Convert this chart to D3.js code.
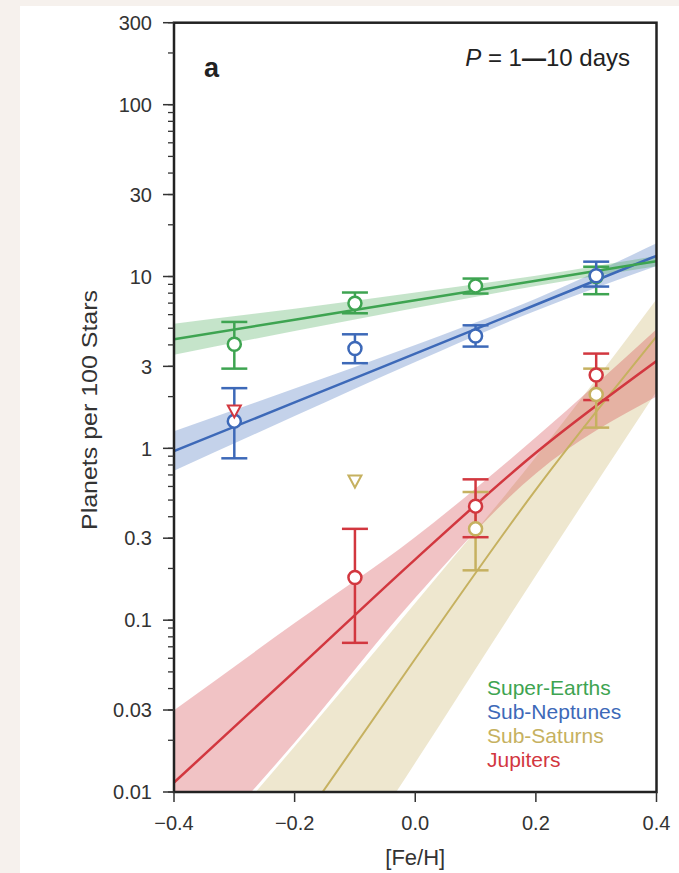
<!DOCTYPE html>
<html>
<head>
<meta charset="utf-8">
<script src="https://cdn.jsdelivr.net/npm/d3@7"></script>
<style>
  body { margin:0; background:#f6f1ed; }
  #panel { position:absolute; left:20px; top:6px; width:659px; height:867px; background:#fff; }
  svg { position:absolute; left:0; top:0; }
  text { font-family:"Liberation Sans", Arial, Helvetica, sans-serif; }
</style>
</head>
<body>
<div id="panel"></div>
<svg id="chart"></svg>
<script>
var width = 679, height = 873;
// plot box (window.top is reserved, so no "top" here)
var boxL = 174, boxR = 656.5, boxT = 22.7, boxB = 792;

// metallicity bins and occurrence (planets per 100 stars)
var fehBins = [-0.3, -0.1, 0.1, 0.3];
var seVal = [4.03, 6.99, 8.82, 10.0];
var seHi  = [5.44, 8.07, 9.73, 11.4];
var seLo  = [2.91, 6.11, 7.96, 7.89];
var snVal = [1.44, 3.81, 4.51, 10.1];
var snHi  = [2.24, 4.61, 5.2, 12.2];
var snLo  = [0.875, 3.13, 3.91, 8.74];
var ssVal = [null, null, 0.34, 2.06];
var ssHi  = [null, null, 0.557, 2.91];
var ssLo  = [null, null, 0.195, 1.32];
var jpVal = [null, 0.177, 0.461, 2.67];
var jpHi  = [null, 0.34, 0.66, 3.56];
var jpLo  = [null, 0.0738, 0.304, 1.91];
// upper limits (triangles)
var ssLim = [null, 0.645, null, null];
var jpLim = [1.65, null, null, null];

// fitted relations at these [Fe/H]
var fitFeh = [-0.4, -0.2, 0.0, 0.2, 0.4];
var seFit = [4.32, 5.6, 7.28, 9.44, 12.27];
var seFitHi = [5.31, 6.5, 8.07, 10.1, 13.15];
var seFitLo = [3.51, 4.82, 6.56, 8.81, 11.46];
var snFit = [0.964, 1.85, 3.56, 6.85, 13.2];
var snFitHi = [1.256, 2.23, 4.0, 7.43, 15.6];
var snFitLo = [0.74, 1.54, 3.18, 6.32, 11.5];
var ssFit = [0.00054, 0.00583, 0.0596, 0.575, 4.47];
var ssFitHi = [0.00282, 0.0184, 0.126, 0.89, 7.38];
var ssFitLo = [0.000112, 0.00126, 0.0148, 0.182, 2.14];
var jpFit = [0.01135, 0.0504, 0.226, 0.942, 3.22];
var jpFitHi = [0.0299, 0.0962, 0.305, 1.16, 4.93];
var jpFitLo = [0.00316, 0.0194, 0.135, 0.714, 2.0];

var names = ["Super-Earths", "Sub-Neptunes", "Sub-Saturns", "Jupiters"];
var colors = ["#3ea451", "#3d69b8", "#c6b160", "#d2373f"];

var yTickVals = [0.01, 0.03, 0.1, 0.3, 1, 3, 10, 30, 100, 300];
var yTickText = ["0.01", "0.03", "0.1", "0.3", "1", "3", "10", "30", "100", "300"];
var xTickVals = [-0.4, -0.2, 0.0, 0.2, 0.4];
var xTickText = ["\u22120.4", "\u22120.2", "0.0", "0.2", "0.4"];

var groups = [
  {val:seVal, hi:seHi, lo:seLo, lim:[null,null,null,null], fit:seFit, fhi:seFitHi, flo:seFitLo},
  {val:snVal, hi:snHi, lo:snLo, lim:[null,null,null,null], fit:snFit, fhi:snFitHi, flo:snFitLo},
  {val:ssVal, hi:ssHi, lo:ssLo, lim:ssLim, fit:ssFit, fhi:ssFitHi, flo:ssFitLo},
  {val:jpVal, hi:jpHi, lo:jpLo, lim:jpLim, fit:jpFit, fhi:jpFitHi, flo:jpFitLo}
];

var svg = d3.select("#chart").attr("width", width).attr("height", height);

var x = d3.scaleLinear().domain([-0.4, 0.4]).range([boxL, boxR]);
var y = d3.scaleLog().domain([0.01, 300]).range([boxB, boxT]);

svg.append("clipPath").attr("id", "clip")
  .append("rect").attr("x", boxL).attr("y", boxT)
  .attr("width", boxR - boxL).attr("height", boxB - boxT);

var plot = svg.append("g").attr("clip-path", "url(#clip)");

// bands: draw sub-saturns first, then jupiters, then small planets
var bandOrder = [2, 3, 1, 0];
bandOrder.forEach(function(i) {
  var g = groups[i];
  var pts = fitFeh.map(function(f, k) { return [f, g.flo[k], g.fhi[k]]; });
  plot.append("path")
    .datum(pts)
    .attr("fill", colors[i])
    .attr("fill-opacity", 0.3)
    .attr("d", d3.area()
      .curve(d3.curveMonotoneX)
      .x(function(d) { return x(d[0]); })
      .y0(function(d) { return y(d[1]); })
      .y1(function(d) { return y(d[2]); }));
});

bandOrder.forEach(function(i) {
  var g = groups[i];
  var pts = fitFeh.map(function(f, k) { return [f, g.fit[k]]; });
  plot.append("path")
    .datum(pts)
    .attr("fill", "none")
    .attr("stroke", colors[i])
    .attr("stroke-width", i == 2 ? 2 : 2.5)
    .attr("d", d3.line()
      .curve(d3.curveMonotoneX)
      .x(function(d) { return x(d[0]); })
      .y(function(d) { return y(d[1]); }));
});

// error bars
var cap = 13;
groups.forEach(function(g, i) {
  fehBins.forEach(function(f, k) {
    if (g.val[k] == null) return;
    var cx = x(f);
    var eb = svg.append("g").attr("stroke", colors[i]).attr("stroke-width", 2.5).attr("fill", "none");
    eb.append("line").attr("x1", cx).attr("x2", cx).attr("y1", y(g.hi[k])).attr("y2", y(g.lo[k]));
    eb.append("line").attr("x1", cx - cap).attr("x2", cx + cap).attr("y1", y(g.hi[k])).attr("y2", y(g.hi[k]));
    eb.append("line").attr("x1", cx - cap).attr("x2", cx + cap).attr("y1", y(g.lo[k])).attr("y2", y(g.lo[k]));
  });
});

// markers
groups.forEach(function(g, i) {
  fehBins.forEach(function(f, k) {
    if (g.val[k] != null) {
      svg.append("circle")
        .attr("cx", x(f)).attr("cy", y(g.val[k])).attr("r", 6.5)
        .attr("fill", "white").attr("stroke", colors[i]).attr("stroke-width", 2.5);
    }
    if (g.lim[k] != null) {
      var cx = x(f), cy = y(g.lim[k]);
      svg.append("path")
        .attr("d", "M" + (cx - 6.5) + "," + (cy - 5.5) + "L" + (cx + 6.5) + "," + (cy - 5.5) + "L" + cx + "," + (cy + 6.5) + "Z")
        .attr("fill", "white").attr("stroke", colors[i]).attr("stroke-width", 2);
    }
  });
});

// frame
svg.append("rect")
  .attr("x", boxL).attr("y", boxT)
  .attr("width", boxR - boxL).attr("height", boxB - boxT)
  .attr("fill", "none").attr("stroke", "#222").attr("stroke-width", 2.5);

// y ticks: all 1..9 per decade, labels on the listed ones
var minor = [];
[0.01, 0.1, 1, 10, 100].forEach(function(d) {
  for (var m = 1; m <= 9; m++) { if (d * m <= 300.0001) minor.push(d * m); }
});
svg.selectAll(".ymin").data(minor).enter().append("line")
  .attr("x1", boxL - 6).attr("x2", boxL)
  .attr("y1", function(d) { return y(d); }).attr("y2", function(d) { return y(d); })
  .attr("stroke", "#333").attr("stroke-width", 1.3);
svg.selectAll(".ymaj").data(yTickVals).enter().append("line")
  .attr("x1", boxL - 11).attr("x2", boxL)
  .attr("y1", function(d) { return y(d); }).attr("y2", function(d) { return y(d); })
  .attr("stroke", "#333").attr("stroke-width", 1.5);
svg.selectAll(".ylab").data(yTickVals).enter().append("text")
  .attr("x", boxL - 22).attr("y", function(d) { return y(d); })
  .attr("dy", "0.36em").attr("text-anchor", "end")
  .attr("font-size", 20).attr("fill", "#333")
  .text(function(d, i) { return yTickText[i]; });

// x ticks
svg.selectAll(".xt").data(xTickVals).enter().append("line")
  .attr("x1", function(d) { return x(d); }).attr("x2", function(d) { return x(d); })
  .attr("y1", boxB).attr("y2", boxB + 10)
  .attr("stroke", "#333").attr("stroke-width", 1.5);
svg.selectAll(".xlab").data(xTickVals).enter().append("text")
  .attr("x", function(d) { return x(d); }).attr("y", 830)
  .attr("text-anchor", "middle").attr("font-size", 20).attr("fill", "#333")
  .text(function(d, i) { return xTickText[i]; });

svg.append("text")
  .attr("x", x(0)).attr("y", 865)
  .attr("text-anchor", "middle").attr("font-size", 22).attr("fill", "#333")
  .text("[Fe/H]");

svg.append("text")
  .attr("transform", "translate(97,410) rotate(-90)")
  .attr("text-anchor", "middle").attr("font-size", 22).attr("fill", "#333")
  .attr("textLength", 240).attr("lengthAdjust", "spacingAndGlyphs")
  .text("Planets per 100 Stars");

svg.append("text")
  .attr("x", 204).attr("y", 77)
  .attr("font-size", 27).attr("font-weight", "bold").attr("fill", "#222")
  .text("a");

var pl = svg.append("text")
  .attr("x", 630).attr("y", 66)
  .attr("text-anchor", "end").attr("font-size", 24).attr("fill", "#222");
pl.append("tspan").attr("font-style", "italic").text("P");
pl.append("tspan").text(" = 1");
pl.append("tspan").attr("font-weight", "bold").text("\u2014");
pl.append("tspan").text("10 days");

// legend
svg.selectAll(".leg").data(names).enter().append("text")
  .attr("x", 487).attr("y", function(d, i) { return 687 + i * 24; })
  .attr("dy", "0.36em").attr("font-size", 21)
  .attr("fill", function(d, i) { return colors[i]; })
  .text(function(d) { return d; });
</script>
</body>
</html>
